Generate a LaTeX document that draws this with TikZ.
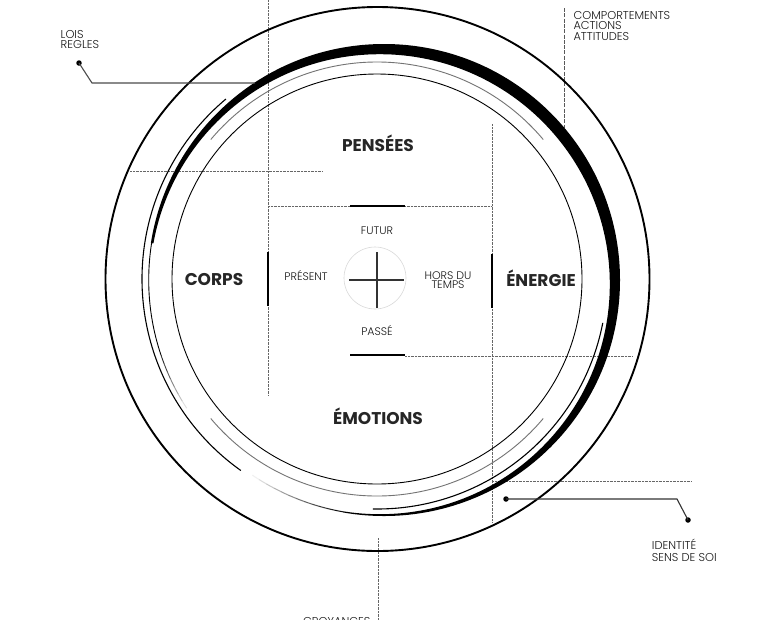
\documentclass[tikz,border=0pt]{standalone}
\usepackage{fontspec}
\setmainfont{Poppins}
\newfontfamily\plight{Poppins Light}
\begin{document}
\begin{tikzpicture}[x=1pt,y=-1pt,
  grid/.style={draw=black!60, line width=0.6pt, dash pattern=on 0.7pt off 0.7pt},
  dashline/.style={draw=black!65, line width=0.7pt, dash pattern=on 4pt off 1.3pt},
  bar/.style={draw=black, line width=2.4pt},
  big/.style={font=\fontsize{17}{17}\selectfont\bfseries, text=black!85, inner sep=0pt, anchor=base},
  mid/.style={font=\plight\fontsize{11}{9}\selectfont, text=black!90, inner sep=0pt, anchor=base},
  small/.style={font=\plight\fontsize{11.4}{10}\selectfont, text=black!90, inner sep=0pt, anchor=base west},
  dot/.style={circle, fill=black, inner sep=0pt, minimum size=5.5pt},
  lead/.style={draw=black!80, line width=1.1pt},
  garc/.style={draw=black!55, line width=0.9pt},
  tarc/.style={draw=black, line width=1.1pt},
]
\useasboundingbox (0,0) rectangle (768,619);
\fill[white] (0,0) rectangle (768,619);

% grid lines
\draw[grid] (268,0) -- (268,395);
\draw[grid] (130,171) -- (322,171);
\draw[grid] (268,206) -- (492,206);
\draw[grid] (492,124) -- (492,522);
\draw[grid] (405,356) -- (632,356);
\draw[grid] (492,481) -- (692,481);
\draw[grid] (378,538) -- (378,625);
\draw[dashline] (564,8) -- (564,128);

% circles
\draw[line width=1.9pt] (377.5,279) circle (272);
\draw[line width=0.9pt] (377,279) circle (205);
\draw[garc] (377,279) ++(-40:217) arc[start angle=-40, end angle=-140, radius=217];
\draw[garc] (377,279) ++(-220:217) arc[start angle=-220, end angle=-320, radius=217];
\draw[tarc] (377,279) ++(-269:230) arc[start angle=-269, end angle=-349, radius=230];
\draw[tarc] (377,279) ++(-130:235) arc[start angle=-130, end angle=-234.6, radius=235];

% thick crescent band
\begin{scope}[shift={(384,280)}]
  \begin{scope}
    \clip (0,0) -- (100:320) -- (60:320) -- (20:320) -- (-20:320) -- (-60:320)
      -- (-100:320) -- (-140:320) -- (-171:320) -- cycle;
    \fill[even odd rule] (0,0) circle (236) (-4.2,4.2) circle (230);
  \end{scope}
  \draw[line width=0.9pt] (-171:235.3) arc[start angle=-171, end angle=-199, radius=235.3];
  \foreach \i in {0,...,6}{
    \pgfmathsetmacro\c{85-12*\i}
    \draw[line width=0.9pt, draw=black!\c] ({-(199+2*\i)}:235.3)
      arc[start angle={-(199+2*\i)}, end angle={-(201+2*\i)}, radius=235.3];
  }
  \foreach \i in {0,...,11}{
    \pgfmathsetmacro\c{6+8*\i}
    \draw[line width=1pt, draw=black!\c] ({-(236+2*\i)}:235.4)
      arc[start angle={-(236+2*\i)}, end angle={-(238+2*\i)}, radius=235.4];
  }
\end{scope}

% bars
\draw[bar] (350,206) -- (405,206);
\draw[bar] (350,355) -- (405,355);
\draw[bar] (268,252) -- (268,306);
\draw[bar] (492,254) -- (492,308);

% centre cross
\draw[black!15, line width=0.6pt] (375,278) circle (31);
\draw[black!80, line width=1.4pt] (377,252) -- (377,308) (349,280) -- (404,280);

% main labels
\node[big] (pensees) at (378,151) {PENSÉES};
\node[big] (corps) at (214,285.5) {CORPS};
\node[big] (energie) at (541,286) {ÉNERGIE};
\node[big] (emotions) at (378,424) {ÉMOTIONS};

% time labels
\node[mid] (futur) at (377,234) {FUTUR};
\node[mid] (passe) at (377,335) {PASSÉ};
\node[mid] (present) at (306,280) {PRÉSENT};
\node[mid] (hors1) at (448,279.3) {HORS DU};
\node[mid] (hors2) at (448,288.8) {TEMPS};

% side labels
\node[small] (lois1) at (60.5,38.3) {LOIS};
\node[small] (lois2) at (60.5,48.3) {REGLES};
\node[small] (comp1) at (573.3,19) {COMPORTEMENTS};
\node[small] (comp2) at (573.3,29.4) {ACTIONS};
\node[small] (comp3) at (573.3,40) {ATTITUDES};
\node[small] (iden1) at (651.7,549.3) {IDENTITÉ};
\node[small] (iden2) at (651.7,561) {SENS DE SOI};
\node[small] (croy) at (303,625.5) {CROYANCES};

% leaders
\node[dot] (dl) at (79,63) {};
\coordinate (bl) at (92,83);
\coordinate (el) at (255,83);
\draw[lead, draw=black!70] (dl.center) -- (bl) -- (el);
\node[dot] (di) at (506,499) {};
\coordinate (bi) at (677,499);
\node[dot] (de) at (688,520) {};
\draw[lead] (di.center) -- (bi) -- (de.center);
\end{tikzpicture}
\end{document}
